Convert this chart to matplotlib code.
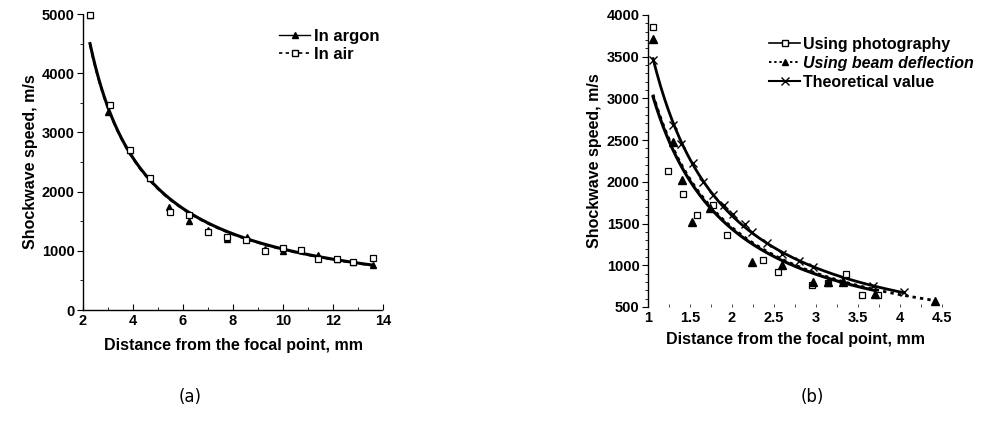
import numpy as np
import matplotlib
matplotlib.use("Agg")
import matplotlib.pyplot as plt
from matplotlib.ticker import MultipleLocator, FuncFormatter

plt.rcParams['font.family'] = ['Liberation Sans', 'DejaVu Sans']
plt.rcParams['font.weight'] = 'bold'

# ---------------- Panel (a) data ----------------
argon_x = [2.28, 3.0, 3.88, 4.68, 5.44, 6.24, 7.0, 7.76, 8.56, 9.28, 10.0, 11.4, 12.16, 12.8, 13.6]
argon_y = [4990, 3345, 2700, 2230, 1740, 1503, 1350, 1200, 1233, 1030, 1000, 930, 860, 810, 760]
air_x = [2.28, 3.08, 3.88, 4.68, 5.48, 6.24, 7.0, 7.76, 8.5, 9.28, 10.0, 10.72, 11.4, 12.16, 12.8, 13.6]
air_y = [4990, 3463, 2700, 2230, 1655, 1605, 1320, 1230, 1180, 1000, 1040, 1013, 860, 860, 810, 880]
# fit curves
argon_fit_x = [2.28, 3.0, 4.68, 7.0, 10.0, 13.6]
argon_fit_y = [4550, 3400, 2200, 1450, 1020, 770]
air_fit_x = [2.28, 3.0, 4.68, 7.0, 10.0, 13.6]
air_fit_y = [4530, 3390, 2190, 1440, 1010, 765]

# ---------------- Panel (b) data ----------------
photo_x = [1.06, 1.24, 1.42, 1.58, 1.77, 1.94, 2.37, 2.55, 2.95, 3.14, 3.36, 3.55, 3.74]
photo_y = [3856, 2130, 1854, 1603, 1725, 1363, 1063, 920, 764, 788, 895, 644, 644]
beam_x = [1.06, 1.30, 1.40, 1.52, 1.74, 2.24, 2.60, 2.97, 3.14, 3.32, 3.70, 4.42]
beam_y = [3712, 2478, 2022, 1519, 1690, 1040, 1003, 800, 800, 800, 650, 570]
theo_x = [1.06, 1.30, 1.39, 1.54, 1.66, 1.77, 1.90, 2.01, 2.15, 2.24, 2.42, 2.59, 2.80, 2.97, 3.32, 3.68, 4.05]
theo_y = [3460, 2681, 2454, 2226, 2000, 1842, 1720, 1610, 1495, 1400, 1270, 1140, 1050, 980, 830, 752, 680]
photo_fit_x = [1.06, 1.5, 2.0, 2.5, 3.0, 3.7]
photo_fit_y = [2980, 2020, 1440, 1130, 900, 680]
beam_fit_x = [1.06, 1.5, 2.0, 2.5, 3.0, 3.5, 4.42]
beam_fit_y = [2990, 2040, 1460, 1145, 920, 760, 560]


def powerfit(xs, ys, x0, x1):
    b, a = np.polyfit(np.log(xs), np.log(ys), 1)
    xx = np.linspace(x0, x1, 200)
    return xx, np.exp(a) * xx ** b


fig = plt.figure(figsize=(9.82, 4.21), dpi=100)

tick_fs = 10.5
xlab_fs = 11.5
ylab_fs = 11.5

# ---------------- Panel (a) ----------------
axa = fig.add_axes([83 / 982, 1 - 310 / 421, 300 / 982, 296 / 421])
xx, yy = powerfit(argon_fit_x, argon_fit_y, 2.28, 13.6)
axa.plot(xx, yy, color='black', lw=2.2, zorder=3)
xx, yy = powerfit(air_fit_x, air_fit_y, 2.28, 13.6)
axa.plot(xx, yy, color='black', lw=1.6, ls=(0, (2, 2)), zorder=3)
axa.plot(argon_x, argon_y, ls='none', marker='^', ms=4.5, color='black', zorder=4, clip_on=False)
axa.plot(air_x, air_y, ls='none', marker='s', ms=4.5, mfc='white', mec='black', mew=0.9,
         zorder=4, clip_on=False)
axa.plot([], [], color='black', lw=1.0, marker='^', ms=4, label='In argon')
axa.plot([], [], color='black', lw=1.2, ls=(0, (2, 2)), marker='s', ms=4,
         mfc='white', mec='black', label='In air')
axa.set_xlim(2, 14)
axa.set_ylim(0, 5000)
axa.xaxis.set_major_locator(MultipleLocator(2))
axa.xaxis.set_minor_locator(MultipleLocator(1))
axa.yaxis.set_major_locator(MultipleLocator(1000))
axa.yaxis.set_minor_locator(MultipleLocator(500))
axa.set_ylabel('Shockwave speed, m/s', fontsize=ylab_fs, fontweight='bold', labelpad=3)
axa.set_xlabel('Distance from the focal point, mm', fontsize=xlab_fs, fontweight='bold', labelpad=7)
axa.legend(loc='upper left', bbox_to_anchor=(0.63, 0.971), frameon=False,
           fontsize=12, handlelength=1.9, handletextpad=0.2, labelspacing=0.17,
           borderaxespad=0)

# ---------------- Panel (b) ----------------
axb = fig.add_axes([648 / 982, 1 - 307 / 421, 294 / 982, 292 / 421])
xx, yy = powerfit(theo_x, theo_y, 1.06, 4.05)
axb.plot(xx, yy, color='black', lw=2.0, zorder=3)
xx, yy = powerfit(photo_fit_x, photo_fit_y, 1.06, 3.7)
axb.plot(xx, yy, color='black', lw=2.2, zorder=3)
xx, yy = powerfit(beam_fit_x, beam_fit_y, 1.06, 4.42)
axb.plot(xx, yy, color='black', lw=2.0, ls=(0, (1.2, 1.5)), zorder=3)
axb.plot(theo_x, theo_y, ls='none', marker='x', ms=5.5, mew=1.0, color='black', zorder=4)
axb.plot(photo_x, photo_y, ls='none', marker='s', ms=5, mfc='white', mec='black', mew=0.9, zorder=4)
axb.plot(beam_x, beam_y, ls='none', marker='^', ms=5.5, color='black', zorder=4, clip_on=False)
axb.plot([], [], color='black', lw=1.2, marker='s', ms=4.5, mfc='white', mec='black',
         label='Using photography')
axb.plot([], [], color='black', lw=1.4, ls=(0, (1.2, 1.5)), marker='^', ms=4.5,
         label='Using beam deflection')
axb.plot([], [], color='black', lw=1.5, marker='x', ms=6, label='Theoretical value')
axb.set_xlim(1, 4.5)
axb.set_ylim(500, 4000)
axb.xaxis.set_major_locator(MultipleLocator(0.5))
axb.xaxis.set_minor_locator(MultipleLocator(0.25))
axb.yaxis.set_major_locator(MultipleLocator(500))
axb.yaxis.set_minor_locator(MultipleLocator(100))
axb.set_ylabel('Shockwave speed, m/s', fontsize=ylab_fs, fontweight='bold', labelpad=3)
axb.set_xlabel('Distance from the focal point, mm', fontsize=xlab_fs, fontweight='bold', labelpad=5)
axb.xaxis.set_major_formatter(FuncFormatter(lambda v, p: f'{v:g}'))
legb = axb.legend(loc='upper left', bbox_to_anchor=(0.391, 0.947), frameon=False,
                  fontsize=11.5, handlelength=1.9, handletextpad=0.2, labelspacing=0.24,
                  borderaxespad=0)
legb.get_texts()[1].set_fontstyle('italic')

for ax in (axa, axb):
    for s in ('top', 'right'):
        ax.spines[s].set_visible(False)
    ax.spines['left'].set_linestyle((0, (1, 1)))
    ax.spines['left'].set_linewidth(1.0)
    ax.tick_params(axis='both', which='major', labelsize=tick_fs, length=4, width=0.8)
    ax.tick_params(axis='both', which='minor', length=2, width=0.6)
    ax.tick_params(axis='y', which='both', pad=2)
    ax.tick_params(axis='x', which='both', direction='in', pad=3)
    for lab in ax.get_xticklabels() + ax.get_yticklabels():
        lab.set_fontweight('bold')

axa.spines['bottom'].set_linestyle((0, (1, 1)))
axa.spines['bottom'].set_linewidth(1.0)
axb.spines['bottom'].set_visible(False)
axb.tick_params(axis='x', which='both', length=2, width=0.5)

fig.text(190 / 982, 1 - 397 / 421, '(a)', ha='center', va='center', fontsize=12,
         fontweight='normal', family='DejaVu Sans')
fig.text(812 / 982, 1 - 397 / 421, '(b)', ha='center', va='center', fontsize=12,
         fontweight='normal', family='DejaVu Sans')

fig.savefig('out.png', dpi=100)
